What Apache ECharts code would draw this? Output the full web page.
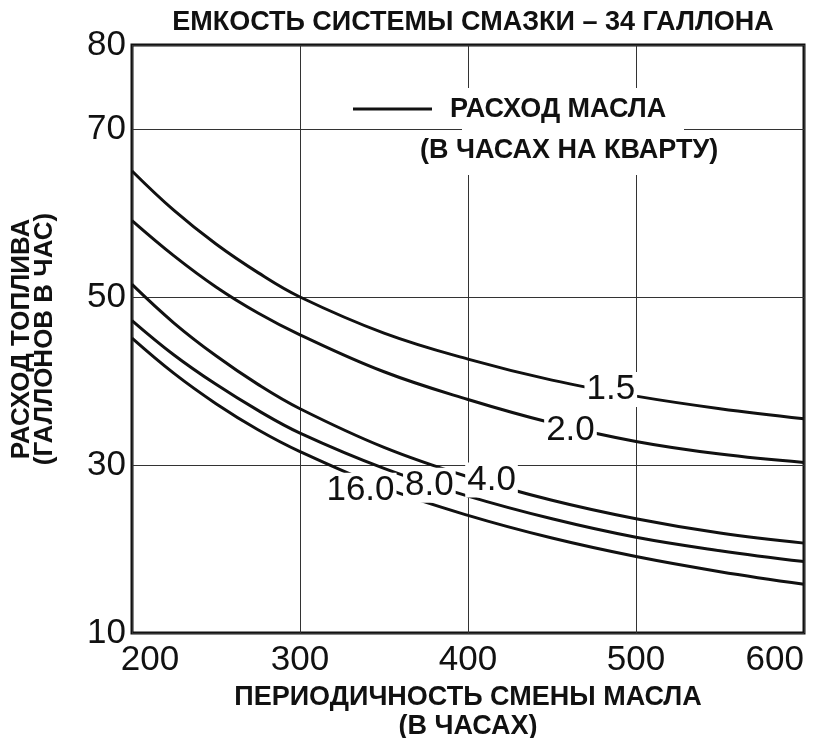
<!DOCTYPE html>
<html>
<head>
<meta charset="utf-8">
<script src="https://cdn.jsdelivr.net/npm/echarts@6/dist/echarts.min.js"></script>
<style>
  html, body { margin: 0; padding: 0; background: #fff; }
  #chart { width: 838px; height: 738px; }
</style>
</head>
<body>
<div id="chart"></div>
<script>
// oil change interval, hours
const xValues = [200, 225, 250, 275, 300, 350, 400, 450, 500, 550, 600];
// fuel consumption (gal/h) for each oil consumption curve (hours per quart)
const oil15 = [65.0, 60.3, 56.3, 52.9, 50.0, 45.7, 42.6, 40.1, 38.2, 36.7, 35.5];
const oil20 = [59.1, 54.9, 51.2, 48.1, 45.5, 41.1, 37.8, 35.0, 32.8, 31.3, 30.3];
const oil40 = [51.5, 46.9, 43.0, 39.6, 36.7, 32.1, 28.6, 25.8, 23.6, 21.9, 20.7];
const oil80 = [47.2, 43.1, 39.6, 36.5, 33.8, 29.6, 26.3, 23.6, 21.4, 19.8, 18.5];
const oil160 = [45.1, 40.9, 37.3, 34.2, 31.6, 27.3, 24.0, 21.3, 19.1, 17.3, 15.8];

const curveLabels = ['1.5', '2.0', '4.0', '8.0', '16.0'];
const labelX = [485, 461, 414, 377, 336];
const labelY = [39.0, 34.1, 28.2, 27.6, 27.0];

const FONT = "'Liberation Sans', Arial, Helvetica, sans-serif";

const chart = echarts.init(document.getElementById('chart'));

function curve(values) {
  return {
    type: 'line',
    data: xValues.map((x, i) => [x, values[i]]),
    smooth: 0.4,
    showSymbol: false,
    symbol: 'none',
    silent: true,
    z: 2,
    lineStyle: { color: '#111', width: 3 }
  };
}

chart.setOption({
  animation: false,
  grid: {
    left: 132, right: 34, top: 45, bottom: 105,
    outerBoundsMode: 'none',
    show: true, borderColor: '#111', borderWidth: 3
  },
  xAxis: {
    type: 'value',
    min: 200, max: 600, interval: 100,
    name: 'ПЕРИОДИЧНОСТЬ СМЕНЫ МАСЛА\n(В ЧАСАХ)',
    nameLocation: 'middle',
    nameGap: 25,
    nameTextStyle: { fontFamily: FONT, fontWeight: 'bold', fontSize: 27, lineHeight: 29, color: '#111' },
    axisLine: { show: false },
    axisTick: { show: false },
    splitLine: { show: true, lineStyle: { color: '#333', width: 1 } },
    axisLabel: {
      margin: 10,
      fontFamily: FONT, fontSize: 35, color: '#111',
      alignMaxLabel: 'right',
      formatter: v => v === 200 ? '{l|200}' : String(v),
      rich: { l: { fontFamily: FONT, fontSize: 35, color: '#111', padding: [0, 0, 0, 36] } }
    }
  },
  yAxis: {
    type: 'value',
    min: 10, max: 80, interval: 20,
    name: 'РАСХОД ТОПЛИВА\n(ГАЛЛОНОВ В ЧАС)',
    nameLocation: 'middle',
    nameGap: 76,
    nameTextStyle: { fontFamily: FONT, fontWeight: 'bold', fontSize: 26, lineHeight: 23, color: '#111' },
    axisLine: { show: false },
    axisTick: { show: false },
    splitLine: { show: true, lineStyle: { color: '#333', width: 1 } },
    axisLabel: { margin: 6, fontFamily: FONT, fontSize: 35, color: '#111', showMaxLabel: true }
  },
  series: [
    curve(oil15),
    curve(oil20),
    curve(oil40),
    curve(oil80),
    curve(oil160),
    {
      type: 'scatter',
      data: labelX.map((x, i) => [x, labelY[i], curveLabels[i]]),
      symbolSize: 1,
      itemStyle: { color: '#fff', opacity: 1 },
      silent: true,
      z: 5,
      label: {
        show: true,
        position: 'inside',
        formatter: p => p.data[2],
        fontFamily: FONT, fontSize: 35, color: '#111',
        backgroundColor: '#fff',
        padding: [0, 2]
      }
    }
  ],
  graphic: [
    { type: 'rect', z: 50, shape: { x: 462, y: 88, width: 222, height: 87 }, style: { fill: '#fff' } },
    { type: 'line', z: 51, shape: { x1: 353, y1: 109, x2: 432, y2: 109 }, style: { stroke: '#111', lineWidth: 3 } },
    { type: 'text', z: 51, x: 450, y: 110, style: { text: 'РАСХОД МАСЛА', font: 'bold 27px ' + FONT, fill: '#111', verticalAlign: 'middle', backgroundColor: '#fff' } },
    { type: 'text', z: 51, x: 420, y: 151, style: { text: '(В ЧАСАХ НА КВАРТУ)', font: 'bold 27px ' + FONT, fill: '#111', verticalAlign: 'middle', backgroundColor: '#fff' } },
    { type: 'text', z: 51, x: 473, y: 23, style: { text: 'ЕМКОСТЬ СИСТЕМЫ СМАЗКИ – 34 ГАЛЛОНА', font: 'bold 27px ' + FONT, fill: '#111', align: 'center', verticalAlign: 'middle' } }
  ]
});

window.addEventListener('resize', chart.resize);
</script>
</body>
</html>
